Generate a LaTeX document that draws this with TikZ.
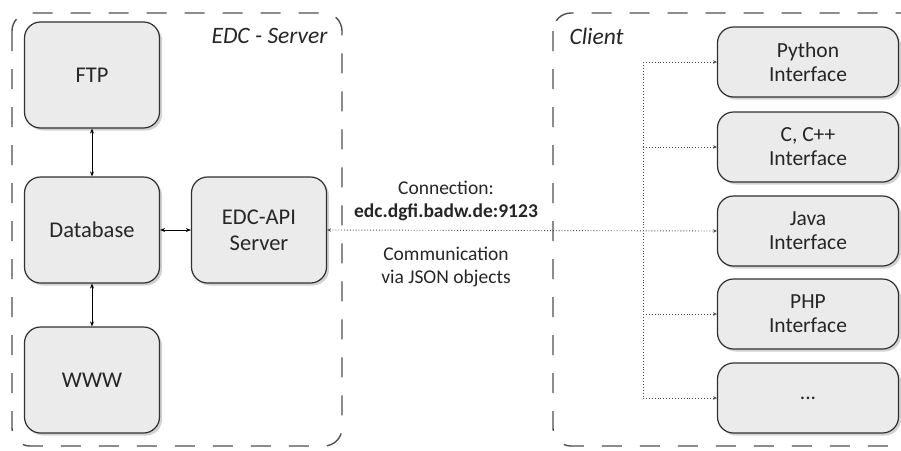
\documentclass[tikz,border=0pt]{standalone}
\usepackage{fontspec}
\setmainfont{Carlito}
\usetikzlibrary{shadows,arrows.meta}
\definecolor{boxfill}{HTML}{EBEBEB}
\definecolor{edge}{HTML}{303030}
\definecolor{txt}{HTML}{262626}

\begin{document}
\begin{tikzpicture}[x=1pt,y=-1pt,
  region/.style={draw=edge!85, line width=1.4pt, dash pattern=on 20pt off 18pt, rounded corners=18pt},
  srvbox/.style={draw=edge, line width=1.2pt, fill=boxfill, rounded corners=16pt,
    minimum width=135pt, minimum height=106pt, align=center, text=txt,
    font=\fontsize{22.5}{26}\selectfont,
    drop shadow={shadow xshift=2.5pt, shadow yshift=-2.5pt, opacity=0.35}},
  ifbox/.style={draw=edge, line width=1.2pt, fill=boxfill, rounded corners=16pt,
    minimum width=181pt, minimum height=70pt, align=center, text=txt,
    font=\fontsize{21.5}{24}\selectfont,
    drop shadow={shadow xshift=2.5pt, shadow yshift=-2.5pt, opacity=0.35}},
  link/.style={{Stealth[length=5pt,width=4pt]}-{Stealth[length=5pt,width=4pt]}, line width=0.8pt, draw=black},
  dotlink/.style={draw=gray!60!black, dotted, line width=0.9pt},
  dotarrow/.style={dotlink, -{Stealth[length=4pt,width=3.5pt]}},
  lbl/.style={text=txt, align=center, font=\fontsize{19.5}{23}\selectfont},
  title/.style={text=txt, font=\fontsize{23.5}{27}\selectfont\itshape}
]
\useasboundingbox (0,0) rectangle (901,450);
\clip (0,0) rectangle (901,450);
\fill[white] (0,0) rectangle (901,450);

% dashed regions
\draw[region] (12,13) rectangle (342,446);
\draw[region] (553,13) rectangle (930,446);
\node[title, anchor=east] (srvtitle) at (331,36) {EDC - Server};
\node[title, anchor=west] (clititle) at (566,36) {Client};

% server side
\node[srvbox] (ftp) at (92,75) {FTP};
\node[srvbox] (db) at (92,230) {Database};
\node[srvbox] (www) at (92,380) {WWW};
\node[srvbox] (api) at (259,230) {EDC-API\\Server};

\draw[link] (ftp) -- (db);
\draw[link] (db) -- (www);
\draw[link] (db) -- (api);

% client side
\node[ifbox] (py) at (808,62) {Python\\Interface};
\node[ifbox] (cpp) at (808,147) {C, C++\\Interface};
\node[ifbox] (java) at (808,231) {Java\\Interface};
\node[ifbox] (php) at (808,314) {PHP\\Interface};
\node[ifbox] (more) at (808,398) {...};

\coordinate (spine) at (643,0);
\draw[dotlink, {Stealth[length=4pt,width=3.5pt]}-{Stealth[length=4pt,width=3.5pt]}] (api.east) -- (java.west);
\draw[dotlink] (spine |- py.west) -- (spine |- more.west);
\foreach \n in {py,cpp,php,more}
  \draw[dotarrow] (spine |- \n.west) -- (\n.west);

% connection labels
\node[lbl] (conn) at (446,201) {Connection:\\\textbf{edc.dgfi.badw.de:9123}};
\node[lbl] (comm) at (446,267) {Communication\\via JSON objects};
\end{tikzpicture}
\end{document}
